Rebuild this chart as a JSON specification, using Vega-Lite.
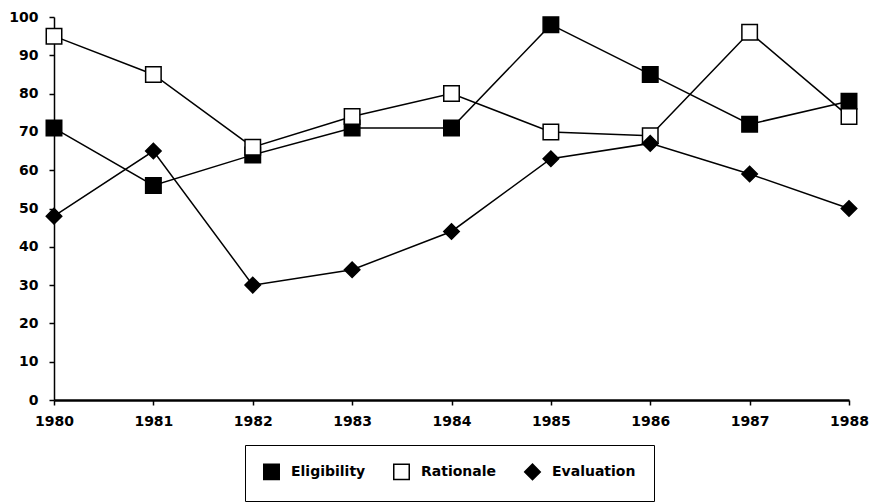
{
  "$schema": "https://vega.github.io/schema/vega-lite/v6.json",
  "autosize": {"type": "none"},
  "padding": {"left": 54, "top": 17, "right": 22, "bottom": 103},
  "width": 795,
  "height": 383,
  "background": "white",
  "config": {
    "view": {"stroke": null},
    "font": "DejaVu Sans",
    "axis": {
      "labelFont": "DejaVu Sans",
      "labelFontWeight": "bold",
      "labelFontSize": 14,
      "labelColor": "black",
      "domainColor": "black",
      "tickColor": "black",
      "grid": false
    },
    "legend": {
      "labelFont": "DejaVu Sans",
      "labelFontWeight": "bold",
      "labelFontSize": 14,
      "labelColor": "black"
    }
  },
  "data": {
    "values": [
      {"year": "1980", "series": "Eligibility", "value": 71},
      {"year": "1981", "series": "Eligibility", "value": 56},
      {"year": "1982", "series": "Eligibility", "value": 64},
      {"year": "1983", "series": "Eligibility", "value": 71},
      {"year": "1984", "series": "Eligibility", "value": 71},
      {"year": "1985", "series": "Eligibility", "value": 98},
      {"year": "1986", "series": "Eligibility", "value": 85},
      {"year": "1987", "series": "Eligibility", "value": 72},
      {"year": "1988", "series": "Eligibility", "value": 78},
      {"year": "1980", "series": "Rationale", "value": 95},
      {"year": "1981", "series": "Rationale", "value": 85},
      {"year": "1982", "series": "Rationale", "value": 66},
      {"year": "1983", "series": "Rationale", "value": 74},
      {"year": "1984", "series": "Rationale", "value": 80},
      {"year": "1985", "series": "Rationale", "value": 70},
      {"year": "1986", "series": "Rationale", "value": 69},
      {"year": "1987", "series": "Rationale", "value": 96},
      {"year": "1988", "series": "Rationale", "value": 74},
      {"year": "1980", "series": "Evaluation", "value": 48},
      {"year": "1981", "series": "Evaluation", "value": 65},
      {"year": "1982", "series": "Evaluation", "value": 30},
      {"year": "1983", "series": "Evaluation", "value": 34},
      {"year": "1984", "series": "Evaluation", "value": 44},
      {"year": "1985", "series": "Evaluation", "value": 63},
      {"year": "1986", "series": "Evaluation", "value": 67},
      {"year": "1987", "series": "Evaluation", "value": 59},
      {"year": "1988", "series": "Evaluation", "value": 50}
    ]
  },
  "encoding": {
    "x": {
      "field": "year",
      "type": "ordinal",
      "scale": {"type": "point", "padding": 0},
      "axis": {
        "title": null,
        "labelAngle": 0,
        "labelPadding": 9,
        "domainWidth": 2.5,
        "tickWidth": 1.5,
        "tickSize": 5
      }
    },
    "y": {
      "field": "value",
      "type": "quantitative",
      "scale": {"domain": [0, 100], "nice": false},
      "axis": {
        "title": null,
        "values": [0, 10, 20, 30, 40, 50, 60, 70, 80, 90, 100],
        "labelPadding": 11,
        "domainWidth": 1.5,
        "tickWidth": 1.5,
        "tickSize": 5
      }
    }
  },
  "layer": [
    {
      "mark": {"type": "line", "color": "black", "strokeWidth": 1.5},
      "encoding": {"detail": {"field": "series"}}
    },
    {
      "mark": {"type": "point", "size": 240, "stroke": "black", "strokeWidth": 1.5, "opacity": 1, "filled": false},
      "encoding": {
        "shape": {
          "field": "series",
          "type": "nominal",
          "sort": ["Eligibility", "Rationale", "Evaluation"],
          "scale": {"domain": ["Eligibility", "Rationale", "Evaluation"], "range": ["square", "square", "diamond"]},
          "legend": {
            "title": null,
            "orient": "none",
            "legendX": 191,
            "legendY": 428,
            "direction": "horizontal",
            "strokeColor": "black",
            "fillColor": "white",
            "padding": 18,
            "columnPadding": 24,
            "symbolSize": 240,
            "labelOffset": 11,
            "encode": {
              "symbols": {
                "update": {
                  "stroke": {"value": "black"},
                  "strokeWidth": {"value": 1.5}
                }
              }
            }
          }
        },
        "fill": {
          "field": "series",
          "type": "nominal",
          "sort": ["Eligibility", "Rationale", "Evaluation"],
          "scale": {"domain": ["Eligibility", "Rationale", "Evaluation"], "range": ["black", "white", "black"]},
          "legend": null
        }
      }
    }
  ]
}
